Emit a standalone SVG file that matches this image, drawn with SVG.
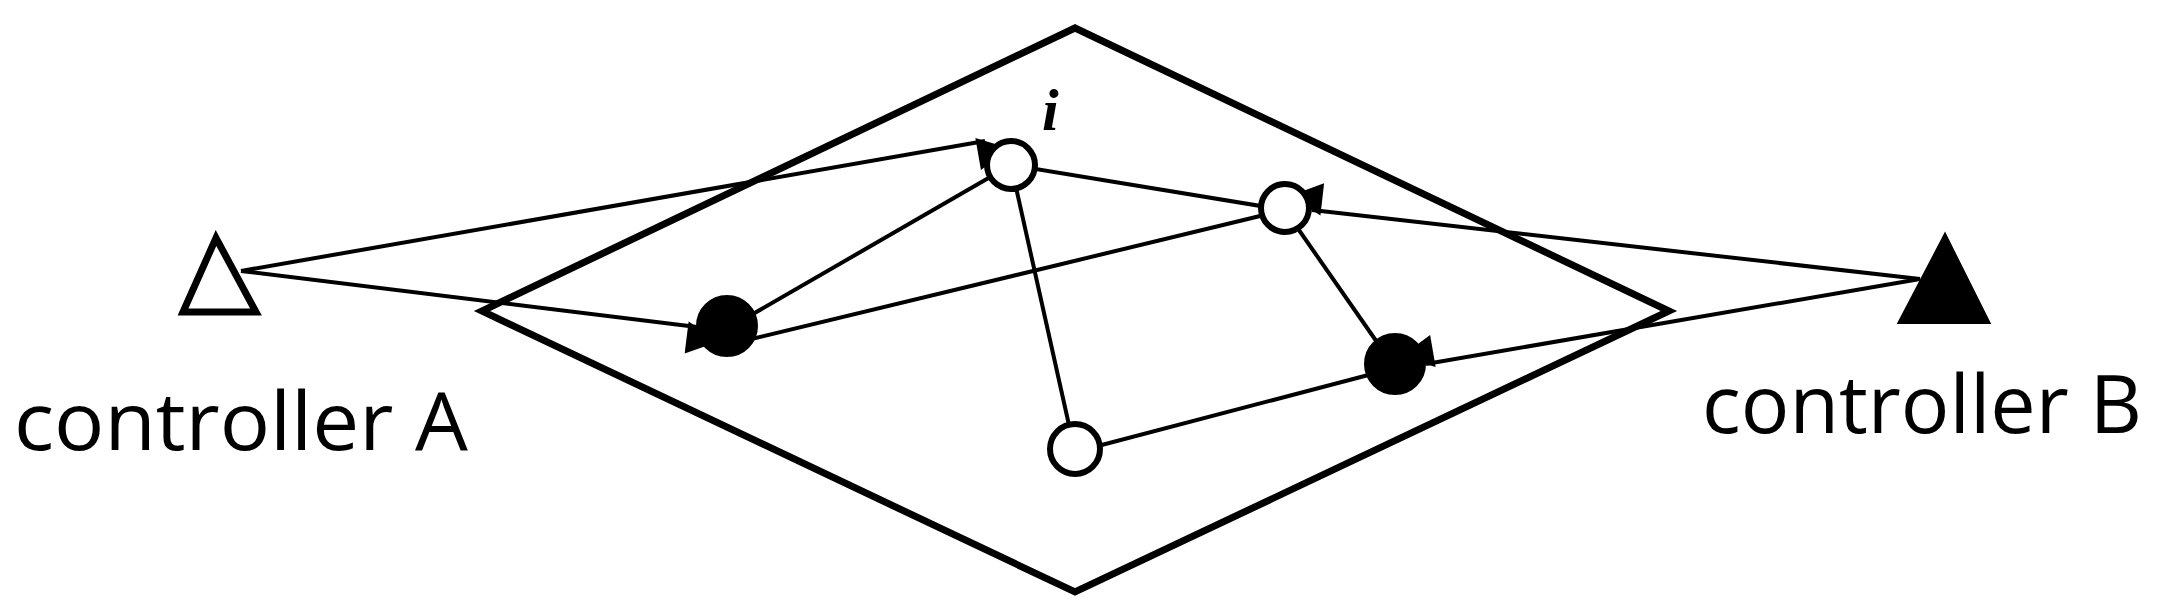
<svg xmlns="http://www.w3.org/2000/svg" width="2158" height="607" viewBox="0 0 2158 607">
<style>
.e{stroke:#000;stroke-width:4;fill:none}
.o{fill:#fff;stroke:#000;stroke-width:6}
.f{fill:#000;stroke:#000;stroke-width:6}
.t{font-family:"Open Sans","Liberation Sans",sans-serif;font-size:80px;fill:#000}
</style>
<defs>
<marker id="ar" viewBox="0 0 10 10" refX="10" refY="5" markerWidth="9" markerHeight="9" markerUnits="userSpaceOnUse" orient="auto" style="overflow:visible">
<path d="M0,0 L10,5 L0,10 z" transform="scale(3.6)" fill="#000"/>
</marker>
</defs>
<rect width="2158" height="607" fill="#fff"/>
<g id="region"><polygon points="1075,28 1669,311 1075,592 482,311" fill="none" stroke="#000" stroke-width="7"/></g>
<g id="connectors">
<line class="e" x1="241" y1="271" x2="985" y2="141" marker-end="url(#ar)"/>
<line class="e" x1="241" y1="271" x2="697" y2="327" marker-end="url(#ar)"/>
<line class="e" x1="1920" y1="279" x2="1312" y2="210" marker-end="url(#ar)"/>
<line class="e" x1="1920" y1="279" x2="1426" y2="364" marker-end="url(#ar)"/>
<line class="e" x1="1011" y1="165" x2="1285" y2="210"/>
<line class="e" x1="1011" y1="165" x2="727" y2="329"/>
<line class="e" x1="1011" y1="165" x2="1075" y2="452"/>
<line class="e" x1="1285" y1="210" x2="727" y2="345"/>
<line class="e" x1="1285" y1="210" x2="1395" y2="368"/>
<line class="e" x1="1075" y1="452" x2="1395" y2="368"/>
</g>
<g id="controllerA"><polygon points="216,238 183,312 256,312" fill="#fff" stroke="#000" stroke-width="7"/>
<text class="t" x="14" y="450" textLength="454" lengthAdjust="spacingAndGlyphs">controller A</text></g>
<g id="controllerB"><polygon points="1945,236 1900,322 1988,322" fill="#000" stroke="#000" stroke-width="4"/>
<text class="t" x="1702" y="433" textLength="440" lengthAdjust="spacingAndGlyphs">controller B</text></g>
<g id="node_i"><circle class="o" cx="1011" cy="165" r="24"/>
<text x="1042" y="130" font-family="Liberation Serif,serif" font-style="italic" font-weight="bold" font-size="60">i</text></g>
<g id="node2"><circle class="o" cx="1285" cy="208" r="24"/></g>
<g id="node3"><circle class="f" cx="727" cy="326" r="28"/></g>
<g id="node4"><circle class="f" cx="1395" cy="364" r="28"/></g>
<g id="node5"><circle class="o" cx="1075" cy="449" r="25"/></g>
</svg>
